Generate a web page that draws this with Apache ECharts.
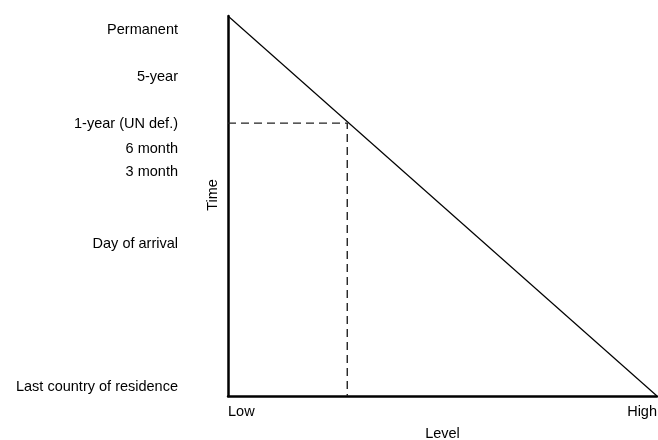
<html>
    <head>
        <meta charset="utf-8">
        <script src="https://cdn.jsdelivr.net/npm/echarts@6/dist/echarts.min.js"></script>
    </head>
    <body style="margin:0">
        <div id="main" style="width: 658px;height:440px;"></div>
        <script type="text/javascript">
        // time levels (y, 0 = bottom, 100 = top) and their labels
        var timeNames = ['Permanent', '5-year', '1-year (UN def.)', '6 month', '3 month', 'Day of arrival', 'Last country of residence'];
        var timeValues = [96.3, 83.9, 71.5, 65.1, 58.9, 40, 2.3];
        var levelNames = ['Low', 'High'];
        var levelValues = [0, 100];
        // the diagonal and the dashed 1-year guide
        var diagonal = [[0, 100], [100, 0]];
        var unGuide = [[0, 71.8], [27.8, 71.8], [27.8, 0]];

        var myChart = echarts.init(document.getElementById('main'));
        var font = 'Liberation Sans, Arial, sans-serif';

        option = {
            animation: false,
            grid: { left: 228, right: 1, top: 16, bottom: 44, outerBoundsMode: 'none' },
            xAxis: {
                type: 'value',
                min: 0,
                max: 100,
                name: 'Level',
                nameLocation: 'middle',
                nameGap: 30,
                nameMoveOverlap: false,
                nameTextStyle: { color: '#000', fontSize: 14.5, fontFamily: font },
                axisLine: { lineStyle: { color: '#000', width: 2.5 } },
                axisTick: { show: false },
                splitLine: { show: false },
                axisLabel: {
                    customValues: levelValues,
                    margin: 8,
                    color: '#000',
                    fontSize: 14.5,
                    fontFamily: font,
                    alignMinLabel: 'left',
                    alignMaxLabel: 'right',
                    formatter: function (v) {
                        return levelNames[levelValues.indexOf(v)];
                    }
                }
            },
            yAxis: {
                type: 'value',
                min: 0,
                max: 100,
                name: 'Time',
                nameLocation: 'middle',
                nameGap: 8,
                nameMoveOverlap: false,
                nameTextStyle: { color: '#000', fontSize: 14.5, fontFamily: font, padding: [0, 0, 0, 22] },
                axisLine: { lineStyle: { color: '#000', width: 2.5 } },
                axisTick: { show: false },
                splitLine: { show: false },
                axisLabel: {
                    customValues: timeValues,
                    margin: 50,
                    color: '#000',
                    fontSize: 14.5,
                    fontFamily: font,
                    formatter: function (v) {
                        return timeNames[timeValues.indexOf(v)];
                    }
                }
            },
            series: [{
                type: 'line',
                data: diagonal,
                showSymbol: false,
                lineStyle: { color: '#000', width: 1.2 }
            }, {
                type: 'line',
                data: unGuide,
                showSymbol: false,
                lineStyle: { color: '#222', width: 1.4, type: [8, 5] }
            }]
        };
        myChart.setOption(option);
        </script>
    </body>
</html>
